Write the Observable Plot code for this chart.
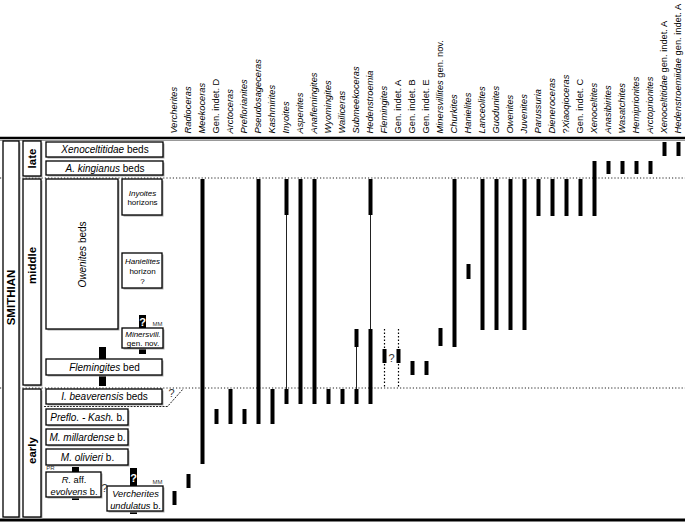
<!DOCTYPE html>
<html><head><meta charset="utf-8">
<script src="https://cdn.jsdelivr.net/npm/d3@7"></script>
<script src="https://cdn.jsdelivr.net/npm/@observablehq/plot@0.6"></script>
<style>
body{margin:0;background:#fff}
#chart{position:relative;width:685px;height:523px}
#chart svg{position:absolute;left:0;top:0}
</style></head><body><div id="chart"></div>
<script>
// ---------- data ----------
const taxa = ["Vercherites","Radioceras","Meekoceras","Gen. indet. D","Arctoceras","Preflorianites",
 "Pseudosageceras","Kashmirites","Inyoites","Aspenites","Anaflemingites","Wyomingites","Wailiceras",
 "Submeekoceras","Hedenstroemia","Flemingites","Gen. indet. A","Gen. indet. B","Gen. indet. E",
 "Minersvillites gen. nov.","Churkites","Hanielites","Lanceolites","Guodunites","Owenites","Juvenites",
 "Parussuria","Dieneroceras","?Xiaoqioceras","Gen. indet. C","Xenoceltites","Anasibirites","Wasatchites",
 "Hemiprionites","Arctoprionites","Xenoceltitidae gen. indet. A","Hedenstroemiidae gen. indet. A"];

// stratigraphic levels (chart units, top = younger)
const thickRanges = [
 ["Vercherites",491,505],["Radioceras",474,488],["Meekoceras",179,464],["Gen. indet. D",409,424],
 ["Arctoceras",389,424],["Preflorianites",409,424],["Pseudosageceras",179,424],["Kashmirites",389,424],
 ["Inyoites",179,215],["Inyoites",389,404],["Aspenites",179,404],["Anaflemingites",179,404],
 ["Wyomingites",389,404],["Wailiceras",389,404],["Submeekoceras",329,347],["Submeekoceras",389,404],
 ["Hedenstroemia",179,215],["Hedenstroemia",329,404],["Flemingites",349,363],["Gen. indet. A",349,363],
 ["Gen. indet. B",361,375],["Gen. indet. E",361,375],["Minersvillites gen. nov.",328,346],["Churkites",179,347],
 ["Hanielites",264,279],["Lanceolites",179,330],["Guodunites",179,330],["Owenites",179,330],["Juvenites",179,330],
 ["Parussuria",179,216],["Dieneroceras",179,216],["?Xiaoqioceras",179,216],["Gen. indet. C",179,216],
 ["Xenoceltites",161,216],["Anasibirites",161,174],["Wasatchites",161,174],["Hemiprionites",161,174],
 ["Arctoprionites",161,174],["Xenoceltitidae gen. indet. A",142,156],["Hedenstroemiidae gen. indet. A",142,156]
];
const thinRanges = [["Inyoites",215,389],["Submeekoceras",347,389],["Hedenstroemia",215,329]];
const uncertainRanges = [["Flemingites",329,388],["Gen. indet. A",329,388]];
const uncertainMark = [["Flemingites",358,"?"]];
const frameLines = [137.5, 519.5];
const boundaries = [177.5, 387.5];

const stage = [{name:"SMITHIAN", top:141, base:517, labelY:297}];
const substages = [
 {name:"late", top:141, base:176, labelY:158},
 {name:"middle", top:179, base:385, labelY:265},
 {name:"early", top:389, base:517, labelY:450}
];
const beds = [
 {label:"*Xenoceltitidae* beds", x1:46, x2:163, top:142, base:157},
 {label:"*A. kingianus* beds", x1:46, x2:163, top:161, base:175},
 {label:"*Flemingites* bed", x1:46, x2:162, top:359, base:375},
 {label:"*I. beaverensis* beds", x1:46, x2:162, top:389, base:404},
 {label:"*Preflo. - Kash.* b.", x1:46, x2:128, top:409, base:425},
 {label:"*M. millardense* b.", x1:46, x2:128, top:429, base:445},
 {label:"*M. olivieri* b.", x1:46, x2:128, top:449, base:465}
];
const horizons = [
 {label:"*Inyoites*\nhorizons", x1:122, x2:162, top:179, base:215},
 {label:"*Hanielites*\nhorizon\n?", x1:122, x2:162, top:253, base:288},
 {label:"*Minersvill.*\ngen. nov.", x1:122, x2:163, top:328, base:348}
];
const earlyBeds = [
 {label:"*R.* aff.\n*evolvens* b.", x1:46, x2:101, top:472, base:497},
 {label:"*Vercherites*\n*undulatus* b.", x1:107, x2:163, top:486, base:511}
];
const tallBeds = [{label:"*Owenites* beds", x1:46, x2:118, top:179, base:329}];
const markers = [{x:102, top:347, base:386}, {x:142, top:315, base:354}, {x:75, top:467, base:500}, {x:133, top:468, base:514}];
const markerQueries = [{x:142, y:322, t:"?"}, {x:133, y:478, t:"?"}];
const authors = [{x:157, y:324, t:"MM"}, {x:157, y:482, t:"MM"}, {x:50, y:468, t:"PR"}];
const queries = [{x:104, y:488, t:"?"}, {x:171, y:393, t:"?"}];
const beaverensisBase = [[44,406],[167,406],[183,388]];

// ---------- helpers ----------
const W = 685, H = 523;
const font = "'Liberation Sans', Arial, Helvetica, sans-serif";
const roman = new Set(["Gen.","indet.","gen.","nov.","A","B","C","D","E"]);
const markup = s => s.split(" ").map(w => roman.has(w) ? w : w.startsWith("?") ? "?*" + w.slice(1) + "*" : "*" + w + "*").join(" ");
function styleItalics(svg) {
  const walker = document.createTreeWalker(svg, NodeFilter.SHOW_TEXT);
  const nodes = [];
  while (walker.nextNode()) if (walker.currentNode.nodeValue.includes("*")) nodes.push(walker.currentNode);
  for (const node of nodes) {
    const parts = node.nodeValue.split("*");
    const frag = document.createDocumentFragment();
    parts.forEach((p, i) => {
      if (!p) return;
      const t = document.createElementNS("http://www.w3.org/2000/svg", "tspan");
      t.setAttribute("font-style", i % 2 ? "italic" : "normal");
      t.textContent = p;
      frag.appendChild(t);
    });
    node.parentNode.replaceChild(frag, node);
  }
}
const yScale = {domain:[0, H], range:[0, H], axis:null};
const cx = d => (d.x1 + d.x2) / 2, cy = d => (d.top + d.base) / 2;
const boxMarks = data => [
  Plot.rect(data, {x1: "x1", x2: "x2", y1: "top", y2: "base", fill: "#aaa", dx: 1.5, dy: 1.5}),
  Plot.rect(data, {x1: "x1", x2: "x2", y1: "top", y2: "base", fill: "white", stroke: "black", strokeWidth: 1.3})
];

// ---------- range chart ----------
const rangesPlot = Plot.plot({
  width: W, height: H, margin: 0,
  style: {background: "white", fontFamily: font},
  x: {type: "point", domain: taxa, range: [174, 678], padding: 0, axis: null},
  y: yScale,
  marks: [
    Plot.ruleY(boundaries, {stroke: "#222", strokeWidth: 1, strokeDasharray: "1.2,2"}),
    Plot.ruleY(frameLines.slice(0,1), {stroke: "black", strokeWidth: 2.5}),
    Plot.ruleY(frameLines.slice(0,1), {stroke: "#999", strokeWidth: 1, dy: 2.5}),
    Plot.ruleY(frameLines.slice(1), {stroke: "black", strokeWidth: 3}),
    Plot.ruleX(uncertainRanges, {x: d => d[0], y1: d => d[1], y2: d => d[2], stroke: "black", strokeWidth: 1.2, strokeDasharray: "1.5,2"}),
    Plot.ruleX(thinRanges, {x: d => d[0], y1: d => d[1], y2: d => d[2], stroke: "#222", strokeWidth: 1}),
    Plot.ruleX(thickRanges, {x: d => d[0], y1: d => d[1], y2: d => d[2], stroke: "black", strokeWidth: 4}),
    Plot.text(uncertainMark, {x: d => d[0], y: d => d[1], text: d => d[2], dx: 7, fontSize: 11, fill: "#333"}),
    Plot.text(taxa, {x: d => d, y: 133, text: markup, rotate: -90, textAnchor: "start", fontSize: 9.3, fill: "black"})
  ]
});

// ---------- stratigraphic column ----------
const unitsPlot = Plot.plot({
  width: W, height: H, margin: 0,
  style: {background: "transparent", fontFamily: font},
  x: {type: "linear", domain: [0, W], range: [0, W], axis: null},
  y: yScale,
  marks: [
    Plot.rect(stage, {x1: 3, x2: 19, y1: "top", y2: "base", fill: "#aaa", dx: 1.5, dy: 1.5}),
    Plot.rect(stage, {x1: 3, x2: 19, y1: "top", y2: "base", fill: "white", stroke: "black", strokeWidth: 1.3}),
    Plot.rect(substages, {x1: 23, x2: 41, y1: "top", y2: "base", fill: "#aaa", dx: 1.5, dy: 1.5}),
    Plot.rect(substages, {x1: 23, x2: 41, y1: "top", y2: "base", fill: "white", stroke: "black", strokeWidth: 1.3}),
    Plot.text(stage, {x: 11, y: "labelY", text: "name", rotate: -90, fontSize: 11.5, fontWeight: "bold"}),
    Plot.text(substages, {x: 32, y: "labelY", text: "name", rotate: -90, fontSize: 11.5, fontWeight: "bold"}),
    Plot.ruleX(markers, {x: "x", y1: "top", y2: "base", stroke: "black", strokeWidth: 7}),
    Plot.line(beaverensisBase, {x: d => d[0], y: d => d[1], stroke: "#222", strokeWidth: 1, strokeDasharray: "1.2,2"}),
    ...boxMarks(beds), ...boxMarks(horizons), ...boxMarks(earlyBeds), ...boxMarks(tallBeds),
    Plot.text(beds, {x: cx, y: cy, text: "label", fontSize: 10}),
    Plot.text(horizons, {x: cx, y: cy, text: "label", fontSize: 8, lineHeight: 1.2}),
    Plot.text(earlyBeds, {x: cx, y: cy, text: "label", fontSize: 9.3, lineHeight: 1.25}),
    Plot.text(tallBeds, {x: cx, y: cy, text: "label", rotate: -90, fontSize: 10}),
    Plot.text(markerQueries, {x: "x", y: "y", text: "t", fill: "white", fontWeight: "bold", fontSize: 11}),
    Plot.text(authors, {x: "x", y: "y", text: "t", fontSize: 6, fill: "#333"}),
    Plot.text(queries, {x: "x", y: "y", text: "t", fontSize: 11, fill: "#333"})
  ]
});

styleItalics(rangesPlot);
styleItalics(unitsPlot);
const root = document.getElementById("chart");
root.appendChild(rangesPlot);
root.appendChild(unitsPlot);
</script></body></html>
